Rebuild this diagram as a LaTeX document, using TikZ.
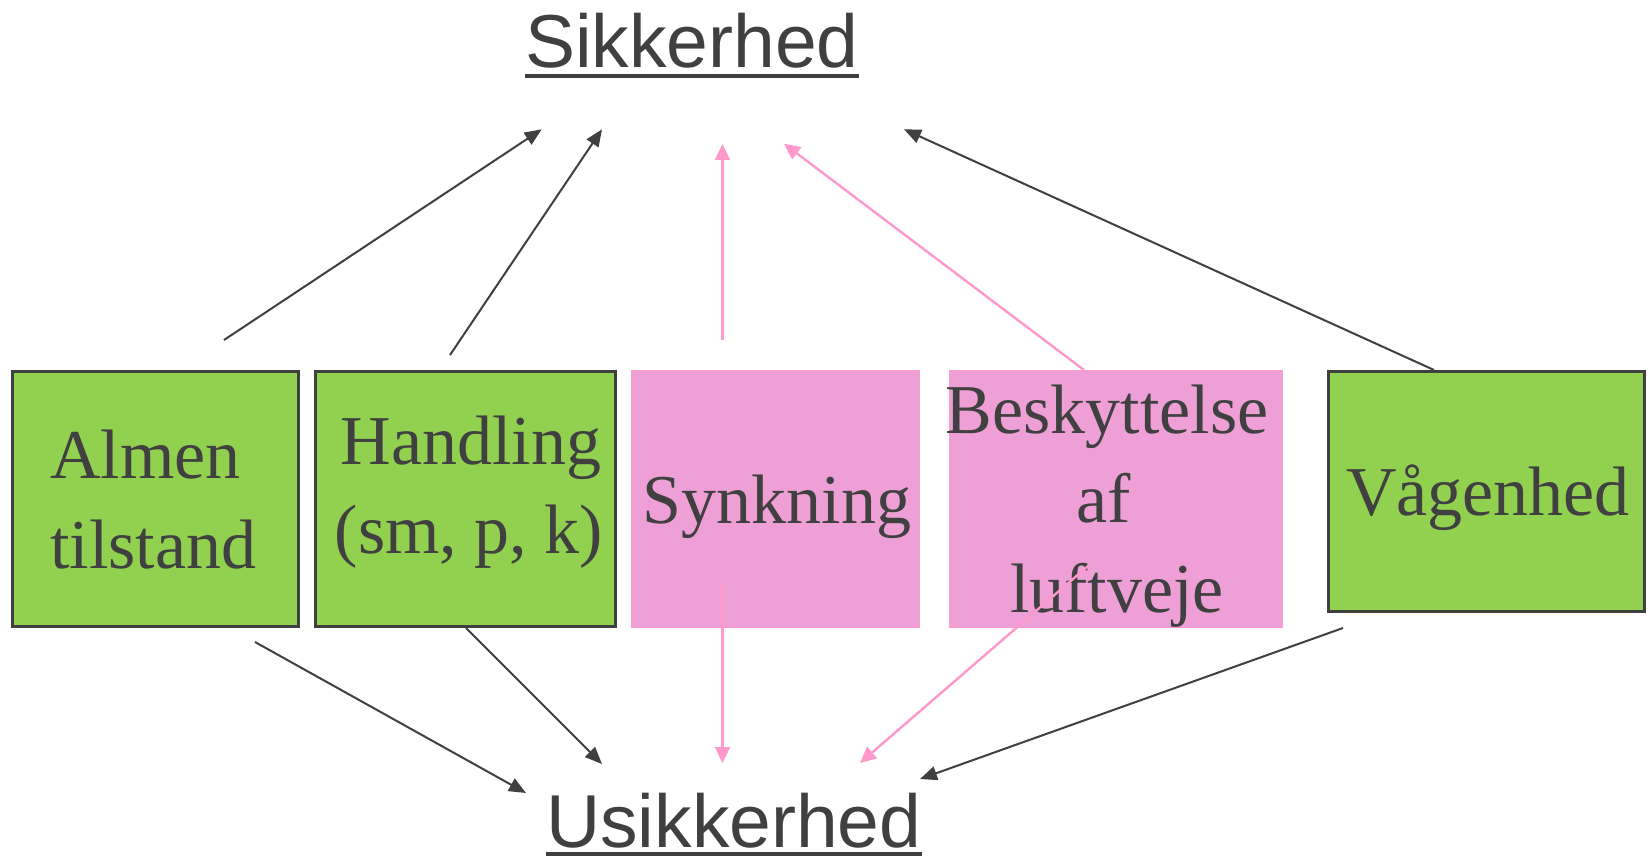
\documentclass[tikz,border=0pt]{standalone}
\usepackage{fontspec}
\setmainfont{Liberation Serif}
\newfontfamily\headfont{Liberation Sans}
\usetikzlibrary{arrows.meta}
\definecolor{txtgray}{HTML}{404040}
\definecolor{boxgreen}{HTML}{92D050}
\definecolor{boxpink}{HTML}{EEA0D6}
\definecolor{arrpink}{HTML}{FF99CC}
\tikzset{
  greenbox/.style={draw=txtgray, line width=2.6pt, fill=boxgreen, inner sep=0pt},
  pinkbox/.style={draw=arrpink, line width=1pt, fill=boxpink, inner sep=0pt},
  boxtext/.style={inner sep=0pt, text=txtgray, font=\fontsize{70}{88}\selectfont},
  headtext/.style={inner sep=0pt, text=txtgray, font=\headfont\fontsize{75}{90}\selectfont, anchor=base west},
  darkarrow/.style={draw=txtgray, line width=2pt, -{Triangle[length=17pt,width=14pt]}},
  pinkarrow/.style={draw=arrpink, line width=2.4pt, -{Triangle[length=16pt,width=15pt]}},
  uline/.style={draw=txtgray, line width=4pt}
}
\begin{document}
\begin{tikzpicture}[x=1pt,y=-1pt]
\useasboundingbox[fill=white] (0,0) rectangle (1650,856);

% boxes
\node[greenbox, minimum width=286.4pt, minimum height=255.4pt] (b1) at (155.5,499) {};
\node[greenbox, minimum width=300.4pt, minimum height=255.4pt] (b2) at (465.5,499) {};
\node[pinkbox, minimum width=288pt, minimum height=257pt] (b3) at (775.5,499) {};
\node[pinkbox, minimum width=333.5pt, minimum height=257pt] (b4) at (1115.75,499) {};
\node[greenbox, minimum width=316.4pt, minimum height=240.4pt] (b5) at (1486.5,491.5) {};

% box texts
\node[boxtext, anchor=base west] (t1a) at (50,478) {Almen};
\node[boxtext, anchor=base west] (t1b) at (50,568) {tilstand};
\node[boxtext, anchor=base] (t2a) at (471,464) {Handling};
\node[boxtext, anchor=base] (t2b) at (469,553) {(sm, p, k)};
\node[boxtext, anchor=base] (t3) at (777,523) {Synkning};
\node[boxtext, anchor=base] (t4a) at (1107,433) {Beskyttelse};
\node[boxtext, anchor=base] (t4b) at (1104,522) {af};
\node[boxtext, anchor=base] (t4c) at (1117,612) {luftveje};
\node[boxtext, anchor=base] (t5) at (1488,515) {Vågenhed};

% headings
\node[headtext] (sik) at (525,68) {Sikkerhed};
\draw[uline] ([yshift=-8pt]sik.base west) -- ([yshift=-8pt]sik.base east);
\node[headtext] (usik) at (546,847) {Usikkerhed};
\draw[uline] ([yshift=-7pt]usik.base west) -- ([yshift=-7pt]usik.base east);

% arrow end points
\coordinate (s1) at (224,340);   \coordinate (e1) at (541.7,129.3);
\coordinate (s2) at (450,355);   \coordinate (e2) at (602,129.3);
\coordinate (s3) at (1434,370);  \coordinate (e3) at (904,129.3);
\coordinate (s4) at (255,642);   \coordinate (e4) at (526,793);
\coordinate (s5) at (466,628);   \coordinate (e5) at (602,764);
\coordinate (s6) at (1343,628);  \coordinate (e6) at (920,779);
\coordinate (s7) at (722.5,340); \coordinate (e7) at (722.5,144);
\coordinate (s8) at (1084,370);  \coordinate (e8) at (784,143.7);
\coordinate (s9) at (722.5,583); \coordinate (e9) at (722.5,763);
\coordinate (s10) at (1088,566); \coordinate (e10) at (860,763);

\draw[darkarrow] (s1) -- (e1);
\draw[darkarrow] (s2) -- (e2);
\draw[darkarrow] (s3) -- (e3);
\draw[darkarrow] (s4) -- (e4);
\draw[darkarrow] (s5) -- (e5);
\draw[darkarrow] (s6) -- (e6);
\draw[pinkarrow] (s7) -- (e7);
\draw[pinkarrow] (s8) -- (e8);
\draw[pinkarrow] (s9) -- (e9);
\draw[pinkarrow] (s10) -- (e10);
\end{tikzpicture}
\end{document}
